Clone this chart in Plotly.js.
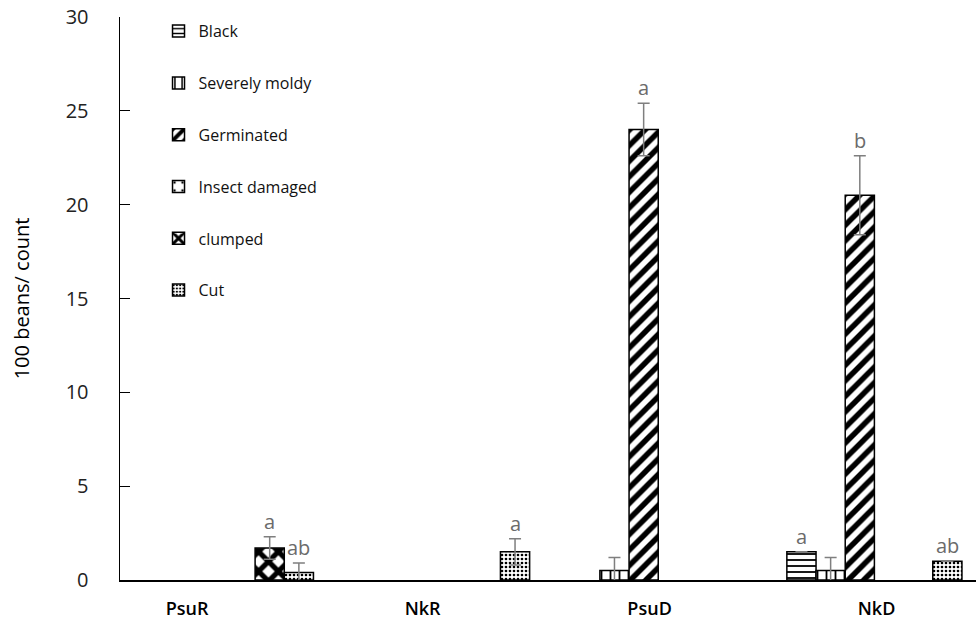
<!DOCTYPE html>
<html>
<head>
<meta charset="utf-8">
<script src="https://cdn.plot.ly/plotly-3.0.1.min.js"></script>
<style>html,body{margin:0;padding:0;background:#fff;}#chart{width:976px;height:639px;}</style>
</head>
<body>
<div id="chart"></div>
<script>
// ---- data ----
const categories = ["PsuR", "NkR", "PsuD", "NkD"];
const seriesNames = ["Black", "Severely moldy", "Germinated", "Insect damaged", "clumped", "Cut"];
const black      = [0, 0, 0, 1.5];
const moldy      = [0, 0, 0.5, 0.5];
const germinated = [0, 0, 24, 20.5];
const insect     = [0, 0, 0, 0];
const clumped    = [1.7, 0, 0, 0];
const cut        = [0.4, 1.5, 0, 1.0];
const blackErr      = [0, 0, 0, 0];
const moldyErr      = [0, 0, 0.7, 0.7];
const germinatedErr = [0, 0, 1.4, 2.1];
const insectErr     = [0, 0, 0, 0];
const clumpedErr    = [0.6, 0, 0, 0];
const cutErr        = [0.5, 0.7, 0, 0];
const blackLetters      = ["", "", "", "a"];
const moldyLetters      = ["", "", "", ""];
const germinatedLetters = ["", "", "a", "b"];
const insectLetters     = ["", "", "", ""];
const clumpedLetters    = ["a", "", "", ""];
const cutLetters        = ["ab", "a", "", "ab"];

const values = [black, moldy, germinated, insect, clumped, cut];
const errs = [blackErr, moldyErr, germinatedErr, insectErr, clumpedErr, cutErr];
const letters = [blackLetters, moldyLetters, germinatedLetters, insectLetters, clumpedLetters, cutLetters];

// ---- styles ----
const FONT = "Open Sans, Noto Sans, sans-serif";
const patterns = [
  {shape: "-", size: 6, solidity: 0.3},
  {shape: "|", size: 9, solidity: 0.2},
  {shape: "/", size: 11, solidity: 0.5},
  {shape: ".", size: 10, solidity: 0.08},
  {shape: "x", size: 14, solidity: 0.6},
  {shape: ".", size: 4, solidity: 0.35}
];
const BARGAP = 0.19;
const xIdx = categories.map((c, i) => i);

// bars
const traces = seriesNames.map((name, s) => ({
  type: "bar",
  name: name,
  legendgroup: name,
  x: xIdx,
  y: values[s].map(v => v > 0 ? v : null),
  marker: {
    color: "#ffffff",
    line: {color: "#000000", width: 1.5},
    pattern: Object.assign({fgcolor: "#000000", bgcolor: "#ffffff", fillmode: "overlay", fgopacity: 1}, patterns[s])
  },
  error_y: {type: "data", array: errs[s], visible: true, color: "#7f7f7f", thickness: 1.5, width: 6},
  hoverinfo: "none"
}));

const nS = seriesNames.length;
const bw = (1 - BARGAP) / nS;
const annotations = [];
letters.forEach((arr, s) => {
  arr.forEach((t, i) => {
    if (!t) return;
    annotations.push({
      x: i + (s - (nS - 1) / 2) * bw,
      y: values[s][i] + errs[s][i],
      xref: "x", yref: "y",
      text: t, showarrow: false,
      yanchor: "bottom", yshift: 0,
      font: {family: FONT, size: 20, color: "#6b6b6b"}
    });
  });
});

const layout = {
  width: 976, height: 639,
  margin: {l: 120, r: 0, t: 17, b: 59},
  paper_bgcolor: "#ffffff", plot_bgcolor: "#ffffff",
  barmode: "group", bargap: BARGAP, bargroupgap: 0,
  showlegend: true,
  legend: {
    x: 0.045, y: 1.005, xanchor: "left", yanchor: "top",
    bgcolor: "rgba(0,0,0,0)", traceorder: "grouped", tracegroupgap: 28,
    font: {family: FONT, size: 16, color: "#111111"},
    itemwidth: 30
  },
  xaxis: {
    range: [-0.49, 3.47],
    tickvals: [-0.18, 0.91, 1.96, 3.01],
    ticktext: categories,
    showline: true, linecolor: "#000000", linewidth: 2,
    ticks: "", showgrid: false, zeroline: false,
    tickfont: {family: FONT, size: 18, color: "#000000", weight: 600},
    ticklabelstandoff: 11
  },
  yaxis: {
    range: [0, 30], dtick: 5,
    showline: true, linecolor: "#000000", linewidth: 1.5,
    ticks: "inside", ticklen: 10, tickcolor: "#000000", tickwidth: 1,
    showgrid: false, zeroline: false,
    tickfont: {family: FONT, size: 20, color: "#222222"},
    ticklabelstandoff: 26,
    title: {text: "100 beans/ count", font: {family: FONT, size: 20, color: "#000000", weight: 500}, standoff: 30}
  },
  annotations: annotations
};

Plotly.newPlot("chart", traces, layout, {staticPlot: true});
</script>
</body>
</html>
